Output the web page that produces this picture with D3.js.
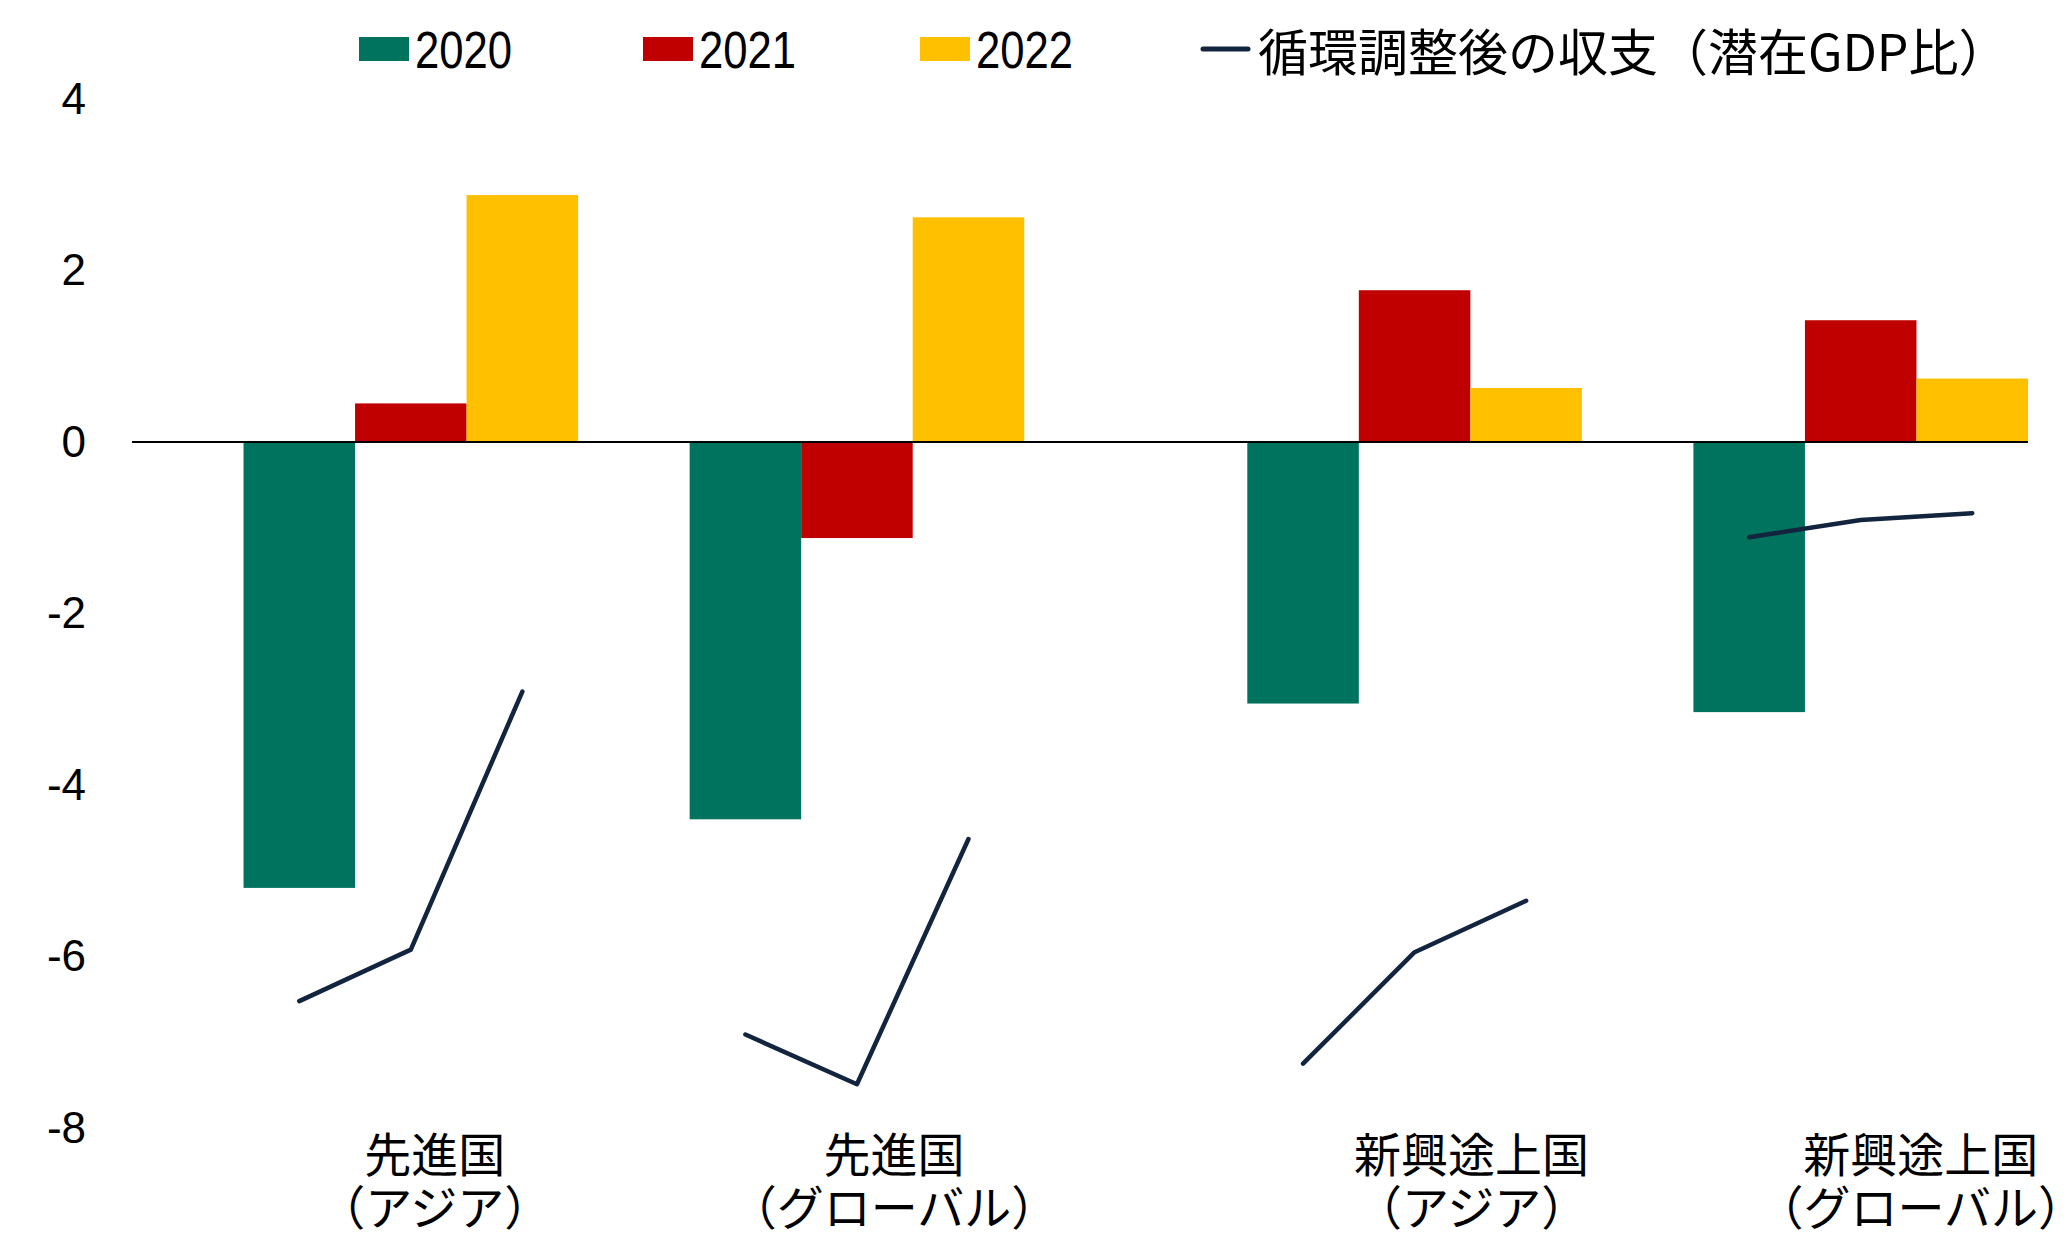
<!DOCTYPE html>
<html>
<head>
<meta charset="utf-8">
<script src="https://cdn.jsdelivr.net/npm/d3@7"></script>
<style>
  html, body { margin: 0; padding: 0; background: #fff; }
  svg { display: block; }
</style>
</head>
<body>
<svg id="chart" width="2069" height="1238"></svg>
<script>
// ---- data ----
const categories = ["先進国（アジア）", "先進国（グローバル）", "新興途上国（アジア）", "新興途上国（グローバル）"];
const labelLine1 = ["先進国", "先進国", "新興途上国", "新興途上国"];
const labelLine2 = ["（アジア）", "（グローバル）", "（アジア）", "（グローバル）"];
const years = ["2020", "2021", "2022"];
const values2020 = [-5.2, -4.4, -3.05, -3.15];
const values2021 = [0.45, -1.12, 1.77, 1.42];
const values2022 = [2.88, 2.62, 0.63, 0.74];
const cyclicalBalance = [
  [-6.52, -5.92, -2.91],
  [-6.91, -7.49, -4.63],
  [-7.25, -5.95, -5.35],
  [-1.11, -0.91, -0.83]
];
const lineLabel = "循環調整後の収支（潜在GDP比）";
const yTicks = [4, 2, 0, -2, -4, -6, -8];

// ---- layout / style ----
const colors = ["#00735F", "#C00000", "#FFC000"];
const lineColor = "#13243F";
const plotLeft = 132, plotRight = 2028;
const slotCount = 17;
const groupStartSlot = [1, 5, 10, 14];
const labelOffset = [24, 37, 57, 60];

const svg = d3.select("#chart");

const x = d3.scaleBand().domain(d3.range(slotCount)).range([plotLeft, plotRight]).padding(0);
const y = d3.scaleLinear().domain([-8, 4]).range([1128, 99]);

const seriesValues = [values2020, values2021, values2022];

// bars
const barData = [];
seriesValues.forEach((vals, s) => {
  vals.forEach((v, g) => barData.push({ s, g, v, slot: groupStartSlot[g] + s }));
});
svg.append("g").selectAll("rect").data(barData).join("rect")
  .attr("x", d => x(d.slot))
  .attr("width", x.bandwidth())
  .attr("y", d => y(Math.max(0, d.v)))
  .attr("height", d => Math.abs(y(d.v) - y(0)))
  .attr("fill", d => colors[d.s]);

// zero line
svg.append("line")
  .attr("x1", plotLeft).attr("x2", plotRight)
  .attr("y1", y(0)).attr("y2", y(0))
  .attr("stroke", "#000").attr("stroke-width", 2);

// y axis labels
const yAxis = d3.axisLeft(y).tickValues(yTicks).tickSize(0).tickPadding(0)
  .tickFormat(d => d < 0 ? "-" + Math.abs(d) : String(d));
const yg = svg.append("g").attr("transform", "translate(86,0)").call(yAxis);
yg.select(".domain").remove();
yg.selectAll("text")
  .attr("font-family", "'Liberation Sans', Arial, sans-serif")
  .attr("font-size", 44)
  .attr("fill", "#000");

// lines
const lineGen = d3.line()
  .x(d => x(d.slot) + x.bandwidth() / 2)
  .y(d => y(d.v));
svg.append("g").selectAll("path").data(cyclicalBalance).join("path")
  .attr("d", (vals, g) => lineGen(vals.map((v, s) => ({ v, slot: groupStartSlot[g] + s }))))
  .attr("fill", "none")
  .attr("stroke", lineColor)
  .attr("stroke-width", 4.5)
  .attr("stroke-linecap", "round")
  .attr("stroke-linejoin", "round");

// category labels
const labels = svg.append("g")
  .attr("font-family", "'Noto Sans CJK JP', sans-serif")
  .attr("font-size", 47)
  .attr("fill", "#000")
  .attr("text-anchor", "middle");
categories.forEach((c, g) => {
  const cx = x(groupStartSlot[g]) + 1.5 * x.bandwidth() + labelOffset[g];
  labels.append("text").attr("x", cx).attr("y", 1172).text(labelLine1[g]);
  labels.append("text").attr("x", cx).attr("y", 1225).text(labelLine2[g]);
});

// legend
const legend = svg.append("g");
const legendX = [359, 643, 920];
years.forEach((yr, i) => {
  legend.append("rect").attr("x", legendX[i]).attr("y", 37).attr("width", 50).attr("height", 24).attr("fill", colors[i]);
  legend.append("text")
    .attr("transform", `translate(${legendX[i] + 56},68) scale(0.84,1)`)
    .attr("font-family", "'Liberation Sans', Arial, sans-serif")
    .attr("font-size", 52)
    .attr("fill", "#000")
    .text(yr);
});
legend.append("line").attr("x1", 1203).attr("x2", 1248).attr("y1", 49).attr("y2", 49)
  .attr("stroke", lineColor).attr("stroke-width", 5).attr("stroke-linecap", "round");
legend.append("text").attr("x", 1258).attr("y", 71)
  .attr("font-family", "'Noto Sans CJK JP', sans-serif")
  .attr("font-size", 50)
  .attr("fill", "#000")
  .text(lineLabel);
</script>
</body>
</html>
